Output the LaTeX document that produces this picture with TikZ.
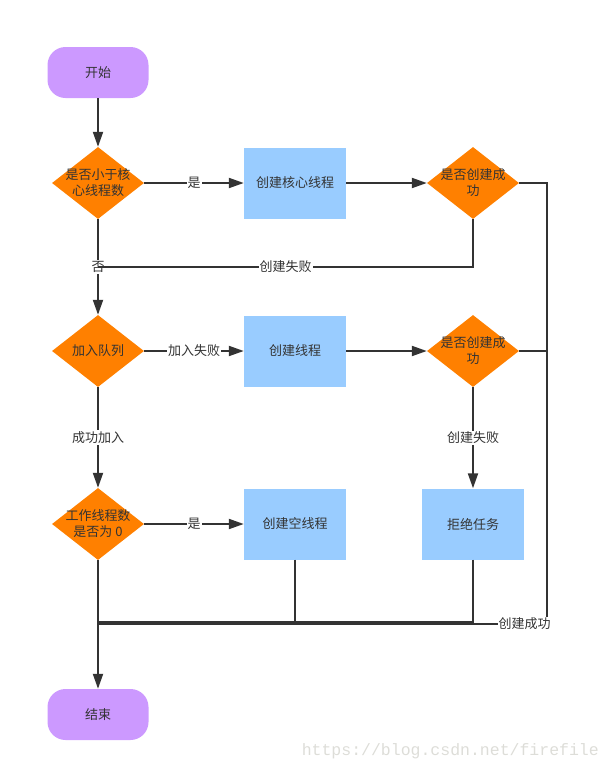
\documentclass[tikz,border=0pt]{standalone}
\usepackage{fontspec}
\setmainfont{Noto Sans CJK SC}
\newfontfamily\wmfont{Liberation Mono}
\usetikzlibrary{shapes.geometric,arrows.meta}
\definecolor{lineC}{HTML}{333333}
\definecolor{orangeC}{HTML}{FF8000}
\definecolor{blueC}{HTML}{99CCFF}
\definecolor{purpleC}{HTML}{CC99FF}
\definecolor{wmC}{HTML}{DDDDD8}
\tikzset{
  txt/.style={text=lineC, font=\fontsize{13}{16}\selectfont},
  terminal/.style={txt, fill=purpleC, rounded corners=18pt, minimum width=101pt, minimum height=51pt, inner sep=0pt},
  decision/.style={diamond, fill=orangeC, minimum width=92pt, minimum height=72pt, inner sep=0pt},
  dtext/.style={txt, align=center},
  process/.style={txt, fill=blueC, minimum width=102pt, minimum height=71pt, inner sep=0pt},
  conn/.style={draw=lineC, line width=2pt},
  arr/.style={conn, -{Triangle[length=15pt,width=10pt]}},
  lbl/.style={txt, fill=white, inner sep=1pt},
}
\begin{document}
\begin{tikzpicture}[x=1pt,y=-1pt]
\useasboundingbox (0,0) rectangle (610,772);
\node[terminal] (start) at (98,72.5) {开始};
\node[decision] (d1) at (98,183) {};
\node[dtext] at (d1.center) {是否小于核\\心线程数};
\node[process] (b1) at (295,183) {创建核心线程};
\node[decision] (d2) at (473,183) {};
\node[dtext] at (d2.center) {是否创建成\\功};
\node[decision] (d3) at (98,351) {};
\node[dtext] at (d3.center) {加入队列};
\node[process] (b2) at (295,351) {创建线程};
\node[decision] (d4) at (473,351) {};
\node[dtext] at (d4.center) {是否创建成\\功};
\node[decision] (d5) at (98,524) {};
\node[dtext] at (d5.center) {工作线程数\\是否为 0};
\node[process] (b3) at (295,524) {创建空线程};
\node[process] (b4) at (473,524) {拒绝任务};
\node[terminal] (end) at (98,714.5) {结束};
\node[font=\wmfont\fontsize{16.5}{18}\selectfont, text=wmC, anchor=east, inner sep=0pt] (wm) at (599,751) {https://blog.csdn.net/firefile};

\coordinate (j1) at (98,267);
\coordinate (r1) at (547,183);
\coordinate (r2) at (547,624);
\coordinate (j2) at (98,624);
\coordinate (j3) at (98,622);
\coordinate (j4) at (98,623);

\draw[arr] (start) -- (d1);
\draw[arr] (d1) -- node[lbl]{是} (b1);
\draw[arr] (b1) -- (d2);
\draw[arr] (d1) -- node[lbl]{否} (d3);
\draw[conn] (d2.south) |- node[lbl, pos=0.75]{创建失败} (j1);
\draw[arr] (d3) -- node[lbl]{加入失败} (b2);
\draw[arr] (b2) -- (d4);
\draw[arr] (d3) -- node[lbl]{成功加入} (d5);
\draw[arr] (d4) -- node[lbl]{创建失败} (b4);
\draw[arr] (d5) -- node[lbl]{是} (b3);
\draw[arr] (d5) -- (end);
\draw[conn] (d2.east) -- (r1) -- (r2) -- node[lbl, pos=0.05]{创建成功} (j2);
\draw[conn] (d4.east) -- (r1 |- d4.east);
\draw[conn] (b4.south) |- (j3);
\draw[conn] (b3.south) |- (j4);
\end{tikzpicture}
\end{document}
